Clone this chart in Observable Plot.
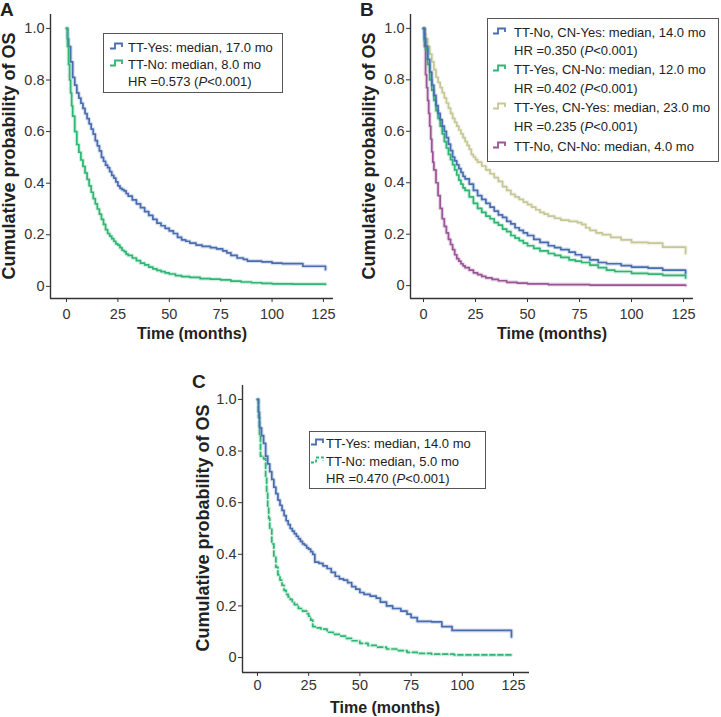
<!DOCTYPE html>
<html>
<head>
<meta charset="utf-8">
<script src="https://cdn.jsdelivr.net/npm/d3@7"></script>
<script src="https://cdn.jsdelivr.net/npm/@observablehq/plot@0.6"></script>
<style>
  html, body { margin: 0; padding: 0; background: #fff; }
  #root { position: relative; width: 721px; height: 717px; overflow: hidden;
          font-family: "Liberation Sans", Arial, sans-serif; color: #222; }
  .panel { position: absolute; }
  .letter { position: absolute; font-weight: bold; font-size: 19px; line-height: 19px; }
  .ylab { position: absolute; font-weight: bold; font-size: 18px; white-space: nowrap;
          transform: translate(-50%, -50%) rotate(-90deg); }
  .xlab { position: absolute; font-weight: bold; font-size: 16px; white-space: nowrap;
          transform: translate(-50%, -50%); }
  .legend { position: absolute; border: 1px solid #555; background: #fff; box-sizing: border-box;
            font-size: 13px; color: #222; }
  .legend .row { position: absolute; white-space: nowrap; transform: translateY(-50%); }
  .legend svg { position: absolute; }
</style>
</head>
<body>
<div id="root"></div>
<script>
// ---------------- Data ----------------
const xTicks = [0, 25, 50, 75, 100, 125];
const yTicks = [0, 0.2, 0.4, 0.6, 0.8, 1.0];

// Panel A: TT-Yes / TT-No
const A_yes_t = [0,0.5,1,2,3,4,5,6,7,8,9,10,11,12,13,14,15,16,17,18,19,20,21,22,23,24,25,26,27,28,29,30,32,34,36,38,40,42,44,46,48,50,52,54,56,58,60,63,66,70,73,76,78,80,83,86,88,95,100,105,115,126];
const A_yes_s = [1,0.96,0.93,0.87,0.81,0.78,0.75,0.73,0.71,0.69,0.67,0.65,0.63,0.61,0.59,0.565,0.545,0.525,0.50,0.485,0.47,0.46,0.445,0.43,0.42,0.405,0.39,0.38,0.375,0.37,0.36,0.35,0.335,0.32,0.305,0.29,0.275,0.26,0.245,0.235,0.225,0.215,0.205,0.19,0.18,0.175,0.168,0.16,0.155,0.15,0.145,0.138,0.13,0.12,0.11,0.105,0.098,0.095,0.09,0.088,0.078,0.065];
const A_no_t = [0,0.5,1,1.5,2,2.5,3,4,5,6,7,8,9,10,11,12,13,14,15,16,17,18,19,20,21,22,23,24,25,26,27,28,29,30,32,34,36,38,40,42,44,46,48,50,53,56,60,65,70,75,80,85,90,95,100,110,126];
const A_no_s = [1,0.93,0.86,0.80,0.75,0.70,0.66,0.60,0.55,0.52,0.49,0.465,0.44,0.415,0.39,0.365,0.34,0.32,0.30,0.28,0.26,0.24,0.22,0.205,0.195,0.185,0.175,0.165,0.16,0.15,0.14,0.135,0.125,0.12,0.11,0.10,0.09,0.083,0.075,0.068,0.062,0.057,0.052,0.048,0.042,0.038,0.035,0.03,0.028,0.025,0.02,0.017,0.014,0.012,0.01,0.009,0.008];

// Panel B: four TT x CN groups
const B_noYes_t = [0,0.5,1,2,3,4,5,6,7,8,9,10,11,12,13,14,15,16,17,18,19,20,22,24,26,28,30,32,34,36,38,40,42,44,46,48,50,53,56,60,63,66,70,73,76,80,84,88,95,100,108,115,126];
const B_noYes_s = [1,0.96,0.93,0.88,0.83,0.78,0.74,0.70,0.67,0.645,0.62,0.60,0.575,0.55,0.525,0.50,0.485,0.47,0.455,0.44,0.425,0.415,0.395,0.37,0.35,0.335,0.32,0.305,0.29,0.275,0.265,0.25,0.24,0.225,0.215,0.205,0.195,0.18,0.168,0.155,0.148,0.14,0.13,0.12,0.11,0.10,0.09,0.085,0.078,0.072,0.068,0.06,0.048];
const B_yesNo_t = [0,0.5,1,2,3,4,5,6,7,8,9,10,11,12,13,14,15,16,17,18,19,20,22,24,26,28,30,32,34,36,38,40,42,44,46,48,50,53,56,60,63,66,70,73,76,80,84,88,92,100,108,115,126];
const B_yesNo_s = [1,0.95,0.92,0.86,0.80,0.76,0.72,0.68,0.65,0.62,0.59,0.56,0.535,0.51,0.49,0.47,0.45,0.43,0.41,0.395,0.38,0.37,0.345,0.32,0.30,0.285,0.27,0.26,0.245,0.235,0.22,0.21,0.195,0.185,0.175,0.165,0.155,0.145,0.135,0.125,0.118,0.11,0.10,0.095,0.09,0.08,0.07,0.06,0.055,0.048,0.045,0.04,0.03];
const B_yesYes_t = [0,0.5,1,2,3,4,5,6,7,8,9,10,11,12,13,14,15,16,17,18,19,20,21,22,23,24,25,26,28,30,32,34,36,38,40,42,44,46,48,50,52,54,56,58,60,63,66,70,74,76,78,80,83,86,90,95,100,108,115,126];
const B_yesYes_s = [1,0.98,0.96,0.93,0.90,0.87,0.84,0.81,0.79,0.77,0.75,0.73,0.71,0.69,0.67,0.65,0.635,0.62,0.605,0.59,0.575,0.56,0.545,0.53,0.51,0.50,0.49,0.48,0.465,0.45,0.435,0.42,0.405,0.385,0.37,0.355,0.345,0.335,0.325,0.315,0.305,0.295,0.285,0.278,0.27,0.262,0.255,0.25,0.245,0.238,0.225,0.215,0.205,0.198,0.188,0.178,0.168,0.165,0.15,0.125];
const B_noNo_t = [0,0.5,1,1.5,2,2.5,3,3.5,4,4.5,5,6,7,8,9,10,11,12,13,14,15,16,17,18,19,20,22,24,26,28,30,33,36,40,45,50,60,80,126];
const B_noNo_s = [1,0.93,0.82,0.77,0.72,0.67,0.62,0.57,0.52,0.48,0.45,0.40,0.35,0.30,0.26,0.23,0.205,0.18,0.16,0.14,0.12,0.105,0.095,0.085,0.077,0.07,0.06,0.05,0.043,0.036,0.03,0.024,0.019,0.013,0.01,0.007,0.004,0.002,0.001];

// Panel C: TT-Yes / TT-No
const C_yes_t = [0,0.5,1,2,3,4,5,6,7,8,9,10,11,12,13,14,15,16,17,18,19,20,21,22,23,24,25,26,27,28,30,32,34,36,38,40,42,44,46,48,50,52,55,58,60,63,66,70,73,75,78,85,90,95,124];
const C_yes_s = [1,0.95,0.89,0.86,0.83,0.78,0.75,0.72,0.69,0.66,0.635,0.61,0.59,0.57,0.55,0.53,0.515,0.50,0.49,0.48,0.47,0.46,0.45,0.44,0.435,0.425,0.42,0.41,0.40,0.37,0.365,0.355,0.345,0.33,0.315,0.305,0.30,0.29,0.275,0.265,0.252,0.245,0.238,0.23,0.215,0.20,0.19,0.18,0.168,0.155,0.14,0.138,0.12,0.105,0.08];
const C_no_t = [0,0.5,1,1.5,3,4,4.5,5,5.5,6,7,8,9,10,11,12,13,14,15,16,17,18,20,22,24,25,26,27,29,31,34,37,40,43,46,50,54,58,63,68,73,78,85,96,124];
const C_no_s = [1,0.93,0.86,0.78,0.77,0.70,0.64,0.58,0.54,0.50,0.44,0.39,0.35,0.32,0.30,0.28,0.26,0.245,0.235,0.225,0.215,0.205,0.19,0.18,0.17,0.16,0.145,0.12,0.115,0.11,0.098,0.09,0.083,0.074,0.065,0.055,0.047,0.04,0.033,0.027,0.02,0.016,0.013,0.01,0.01];

// Legend texts
const A_labels = ["TT-Yes: median, 17.0 mo", "TT-No: median, 8.0 mo", "HR =0.573 (<i>P</i>&lt;0.001)"];
const B_labels = ["TT-No, CN-Yes: median, 14.0 mo", "HR =0.350 (<i>P</i>&lt;0.001)",
                  "TT-Yes, CN-No: median, 12.0 mo", "HR =0.402 (<i>P</i>&lt;0.001)",
                  "TT-Yes, CN-Yes: median, 23.0 mo", "HR =0.235 (<i>P</i>&lt;0.001)",
                  "TT-No, CN-No: median, 4.0 mo"];
const C_labels = ["TT-Yes: median, 14.0 mo", "TT-No: median, 5.0 mo", "HR =0.470 (<i>P</i>&lt;0.001)"];

const BLUE = "#4a6db0", GREEN = "#2fb574", KHAKI = "#c6c795", PURPLE = "#995595";

// ---------------- Drawing ----------------
const root = document.getElementById("root");

function panel({left, top, width, height, mt, mb, ml, mr, xDomain, yDomain, xPad, series}) {
  const marks = [];
  for (const s of series) {
    const data = s.t.map((t, i) => ({t, s: s.s[i]}));
    marks.push(Plot.line(data, {x: "t", y: "s", curve: "step-after", stroke: s.color,
      strokeWidth: 4, strokeOpacity: 0.22, strokeDasharray: s.dash}));
    marks.push(Plot.line(data, {x: "t", y: "s", curve: "step-after", stroke: s.color,
      strokeWidth: 1.7, strokeDasharray: s.dash}));
  }
  marks.push(Plot.ruleX([xDomain[0]], {y1: yDomain[0], y2: yDomain[1], stroke: "#333", strokeWidth: 1.4}));
  marks.push(Plot.ruleY([yDomain[0]], {x1: xDomain[0], x2: xDomain[1], stroke: "#333", strokeWidth: 1.4}));
  const svg = Plot.plot({
    width, height, marginTop: mt, marginBottom: mb, marginLeft: ml, marginRight: mr,
    style: {fontFamily: "'Liberation Sans', Arial, sans-serif", fontSize: "14.5px", color: "#333", background: "transparent"},
    x: {domain: xDomain, ticks: xTicks, tickSize: 4, tickPadding: xPad, label: null},
    y: {domain: yDomain, ticks: yTicks, tickSize: 4, tickPadding: 2, label: null,
        tickFormat: d => d === 0 ? "0" : d.toFixed(1)},
    marks
  });
  svg.classList.add("panel");
  svg.style.left = left + "px";
  svg.style.top = top + "px";
  root.appendChild(svg);
}

function addDiv(cls, html, x, y) {
  const d = document.createElement("div");
  d.className = cls;
  d.innerHTML = html;
  d.style.left = x + "px";
  d.style.top = y + "px";
  root.appendChild(d);
  return d;
}

function swatch(color, dash) {
  return `<svg width="15" height="9" viewBox="0 0 15 9"><path d="M0,6.5 H5 V1.5 H12 V5" fill="none" stroke="${color}" stroke-width="1.8" ${dash ? 'stroke-dasharray="3,2"' : ''}/></svg>`;
}

function legend({x, y, w, h, rows, textX, swX}) {
  const box = addDiv("legend", "", x, y);
  box.style.width = w + "px";
  box.style.height = h + "px";
  for (const r of rows) {
    const row = document.createElement("div");
    row.className = "row";
    row.innerHTML = r.html;
    row.style.left = (textX - x - 1) + "px";
    row.style.top = (r.cy - y - 1) + "px";
    box.appendChild(row);
    if (r.color) {
      const s = document.createElement("div");
      s.innerHTML = swatch(r.color, r.dash);
      s.style.position = "absolute";
      s.style.left = (swX - x - 1) + "px";
      s.style.top = (r.cy - y - 1 - 5) + "px";
      box.appendChild(s);
    }
  }
}

// Panel A
panel({left: 0, top: 0, width: 360, height: 340, mt: 14, mb: 42, ml: 50, mr: 27,
  xDomain: [-7.8, 129.9], yDomain: [-0.047, 1.054], xPad: 6,
  series: [{t: A_yes_t, s: A_yes_s, color: BLUE}, {t: A_no_t, s: A_no_s, color: GREEN}]});
addDiv("letter", "A", 0, 0);
addDiv("ylab", "Cumulative probability of OS", 9, 156);
addDiv("xlab", "Time (months)", 192, 334);
legend({x: 103, y: 33, w: 180, h: 60, textX: 128, swX: 110, rows: [
  {html: A_labels[0], cy: 47, color: BLUE},
  {html: A_labels[1], cy: 64, color: GREEN},
  {html: A_labels[2], cy: 81}]});

// Panel B
panel({left: 360, top: 0, width: 361, height: 340, mt: 14, mb: 42, ml: 50, mr: 28,
  xDomain: [-6.25, 129.8], yDomain: [-0.05, 1.054], xPad: 6,
  series: [{t: B_yesYes_t, s: B_yesYes_s, color: KHAKI},
           {t: B_noNo_t, s: B_noNo_s, color: PURPLE},
           {t: B_yesNo_t, s: B_yesNo_s, color: GREEN},
           {t: B_noYes_t, s: B_noYes_s, color: BLUE}]});
addDiv("letter", "B", 360, 0);
addDiv("ylab", "Cumulative probability of OS", 369, 156);
addDiv("xlab", "Time (months)", 552, 334);
legend({x: 487, y: 18, w: 232, h: 144, textX: 514, swX: 493, rows: [
  {html: B_labels[0], cy: 32, color: BLUE},
  {html: B_labels[1], cy: 50},
  {html: B_labels[2], cy: 69, color: GREEN},
  {html: B_labels[3], cy: 88},
  {html: B_labels[4], cy: 107, color: KHAKI},
  {html: B_labels[5], cy: 126},
  {html: B_labels[6], cy: 146, color: PURPLE}]});

// Panel C
panel({left: 192, top: 360, width: 360, height: 340, mt: 25, mb: 28, ml: 50, mr: 23,
  xDomain: [-7.3, 132.8], yDomain: [-0.058, 1.054], xPad: 3,
  series: [{t: C_no_t, s: C_no_s, color: GREEN, dash: "5,3"}, {t: C_yes_t, s: C_yes_s, color: BLUE}]});
addDiv("letter", "C", 192, 372);
addDiv("ylab", "Cumulative probability of OS", 203, 528);
addDiv("xlab", "Time (months)", 385, 708);
legend({x: 309, y: 431, w: 177, h: 58, textX: 326, swX: 311, rows: [
  {html: C_labels[0], cy: 443, color: BLUE},
  {html: C_labels[1], cy: 461, color: GREEN, dash: true},
  {html: C_labels[2], cy: 478}]});
</script>
</body>
</html>
